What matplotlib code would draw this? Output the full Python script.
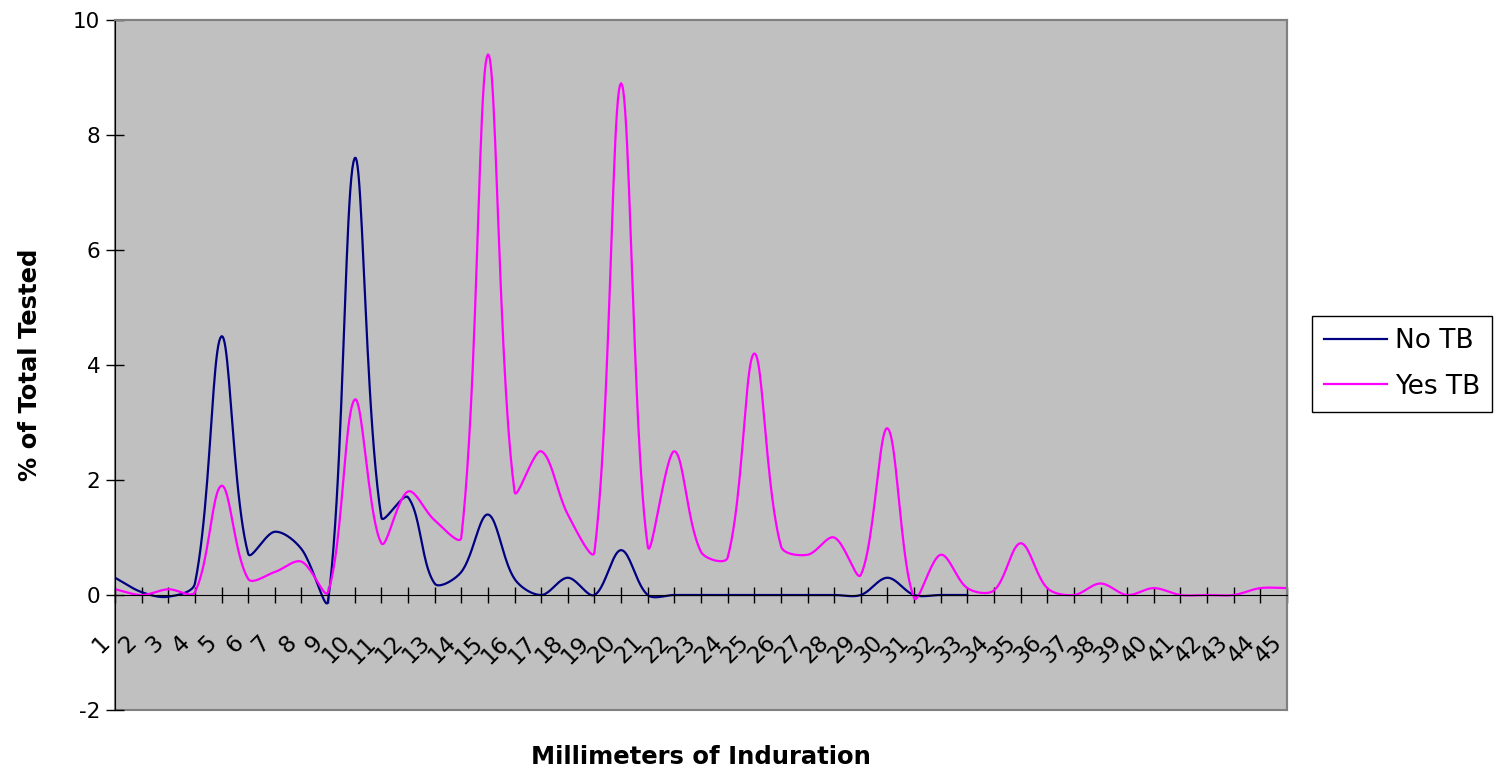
import matplotlib
matplotlib.use('Agg')
import matplotlib.pyplot as plt
import matplotlib.transforms as mtransforms
from matplotlib.patches import Rectangle
import numpy as np

plt.rcParams['font.family'] = 'DejaVu Sans'
plt.rcParams['axes.unicode_minus'] = False

# Data (% of total tested per mm of induration)
mm = list(range(1, 46))
no_tb = [0.3, 0.05, -0.03, 0.2, 4.5, 0.72, 1.1, 0.8, -0.1, 7.6,
         1.35, 1.7, 0.2, 0.4, 1.4, 0.28, 0.0, 0.3, 0.0, 0.78,
         0.0, 0.0, 0.0, 0.0, 0.0, 0.0, 0.0, 0.0, 0.0, 0.3,
         0.0, 0.0, 0.0]
yes_tb = [0.1, 0.0, 0.1, 0.05, 1.9, 0.28, 0.4, 0.58, 0.05, 3.4,
          0.9, 1.8, 1.3, 1.0, 9.4, 1.8, 2.5, 1.4, 0.75, 8.9,
          0.85, 2.5, 0.75, 0.65, 4.2, 0.85, 0.7, 1.0, 0.35, 2.9,
          -0.05, 0.7, 0.12, 0.08, 0.9, 0.12, 0.0, 0.2, 0.0, 0.12,
          0.0, 0.0, 0.0, 0.12, 0.12]
y_ticks = [-2, 0, 2, 4, 6, 8, 10]


def smooth(xv, yv, sx, sy, n=24):
    # Excel-style smoothed line: bezier pieces, tangents weighted by chord length
    p = np.column_stack([np.asarray(xv, float) * sx, np.asarray(yv, float) * sy])
    m = len(p)
    out = [p[0]]
    for i in range(m - 1):
        p0 = p[i - 1] if i > 0 else p[i]
        p1, p2 = p[i], p[i + 1]
        p3 = p[i + 2] if i + 2 < m else p[i + 1]
        d01 = np.hypot(*(p1 - p0))
        d12 = np.hypot(*(p2 - p1))
        d23 = np.hypot(*(p3 - p2))
        c1 = p1 + (p2 - p0) * (d12 / (d01 + d12)) / 3
        c2 = p2 - (p3 - p1) * (d12 / (d12 + d23)) / 3
        t = np.linspace(0, 1, n)[1:, None]
        seg = (1 - t)**3 * p1 + 3 * (1 - t)**2 * t * c1 + 3 * (1 - t) * t**2 * c2 + t**3 * p2
        out.extend(seg)
    out = np.array(out)
    return out[:, 0] / sx, out[:, 1] / sy


W, H = 1495, 777
fig = plt.figure(figsize=(W / 100, H / 100), dpi=100)
left, right, top, bottom = 115 / W, 1287 / W, 1 - 20 / H, 1 - 710 / H
ax = fig.add_axes([left, bottom, right - left, top - bottom])
ax.set_facecolor('#C0C0C0')
ax.set_xlim(1, 45)
ax.set_ylim(-2, 10)

sx = (right - left) * W / 44
sy = (top - bottom) * H / 12

xs, ys = smooth(mm[:len(no_tb)], no_tb, sx, sy)
ax.plot(xs, ys, color='#000080', lw=1.6, label='No TB', solid_joinstyle='round')
xs, ys = smooth(mm, yes_tb, sx, sy)
ax.plot(xs, ys, color='#FF00FF', lw=1.6, label='Yes TB', solid_joinstyle='round')

# plot area border (gray) and axes (black)
ax.add_patch(Rectangle((0, 0), 1, 1, transform=ax.transAxes, fill=False,
                       edgecolor='#808080', lw=1.5, clip_on=False, zorder=0.5))
for s in ['top', 'right']:
    ax.spines[s].set_color('#808080')
    ax.spines[s].set_linewidth(1.5)
ax.spines['left'].set_color('black')
ax.spines['bottom'].set_color('black')
ax.spines['bottom'].set_position(('data', 0))

ax.set_yticks(y_ticks)
ax.set_xticks(mm)
ax.set_xticklabels([str(v) for v in mm])
ax.tick_params(axis='y', direction='inout', length=13, width=1, labelsize=15.5, pad=4)
ax.tick_params(axis='x', direction='inout', length=12, width=1, labelsize=16.5, pad=20)

offset = mtransforms.ScaledTranslation(-12 / 72, 0, fig.dpi_scale_trans)
for lab in ax.get_xticklabels():
    lab.set_rotation(45)
    lab.set_ha('right')
    lab.set_va('top')
    lab.set_rotation_mode('anchor')
    lab.set_transform(lab.get_transform() + offset)

fig.text(701 / W, 1 - 757 / H, 'Millimeters of Induration', ha='center', va='center',
         fontsize=17.5, fontweight='bold')
fig.text(30 / W, 1 - 365 / H, '% of Total Tested', ha='center', va='center',
         rotation=90, fontsize=17.5, fontweight='bold')

leg = fig.legend(loc='upper left', bbox_to_anchor=(1312 / W, 1 - 316 / H), borderaxespad=0,
                 fontsize=19, frameon=True, fancybox=False, edgecolor='black',
                 framealpha=1, handlelength=2.4, handletextpad=0.3, labelspacing=0.75,
                 borderpad=0.45)
leg.get_frame().set_linewidth(1.0)

plt.savefig('out.png', dpi=100)
